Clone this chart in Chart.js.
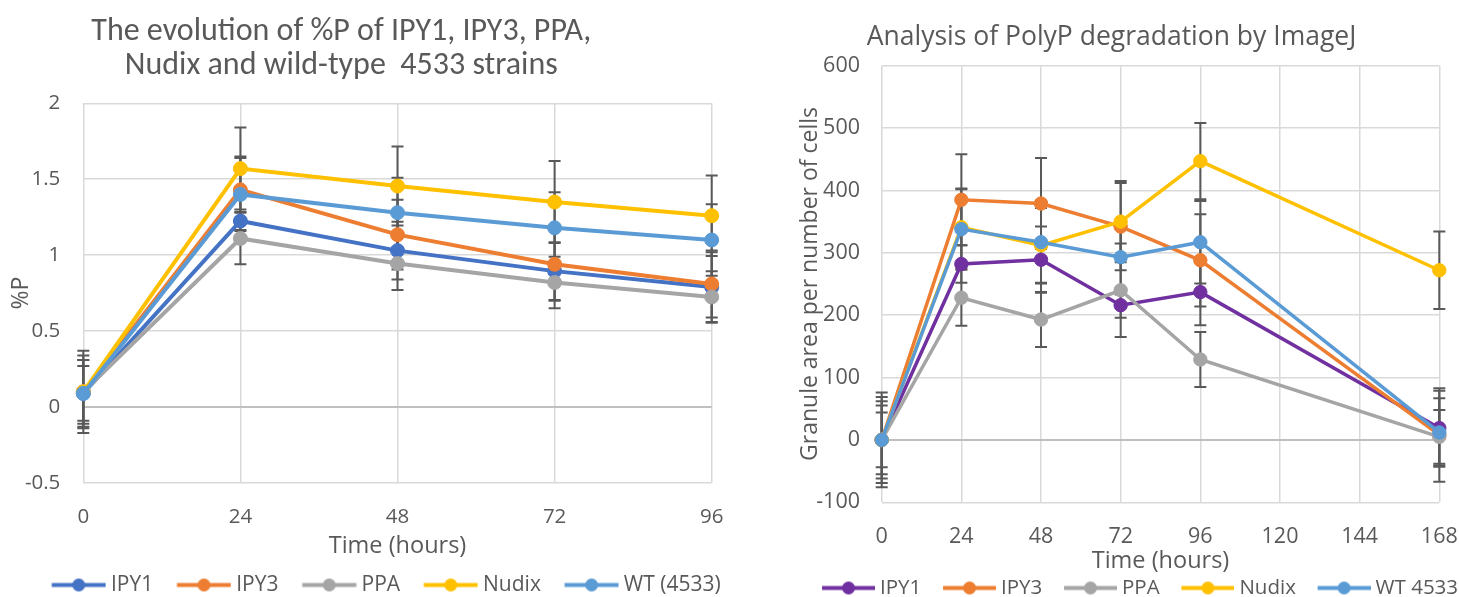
<!DOCTYPE html>
<html>
<head>
<meta charset="utf-8">
<script src="https://cdn.jsdelivr.net/npm/chart.js@4.4.1/dist/chart.umd.min.js"></script>
<style>
  html, body { margin: 0; padding: 0; background: #ffffff; }
  #chartP { position: absolute; left: 0; top: 0; }
  #chartPolyP { position: absolute; left: 700px; top: 0; }
</style>
</head>
<body>
<canvas id="chartP" width="740" height="597"></canvas>
<canvas id="chartPolyP" width="759" height="597"></canvas>
<script>
// ---- %P time course (0–96 h) ----
const hoursP = [0, 24, 48, 72, 96];
const pIPY1  = [0.09, 1.225, 1.03, 0.895, 0.79];
const pIPY3  = [0.10, 1.43, 1.135, 0.94, 0.81];
const pPPA   = [0.10, 1.11, 0.945, 0.82, 0.725];
const pNudix = [0.10, 1.57, 1.455, 1.35, 1.26];
const pWT    = [0.09, 1.40, 1.28, 1.18, 1.10];
// standard deviations for %P
const sdIPY1  = [0.18, 0.06, 0.19, 0.19, 0.23];
const sdIPY3  = [0.21, 0.22, 0.23, 0.24, 0.22];
const sdPPA   = [0.24, 0.17, 0.175, 0.17, 0.17];
const sdNudix = [0.27, 0.27, 0.26, 0.27, 0.265];
const sdWT    = [0.22, 0.24, 0.23, 0.235, 0.235];
const namesP = ['IPY1', 'IPY3', 'PPA', 'Nudix', 'WT (4533)'];

// ---- PolyP granule area per number of cells (0–168 h) ----
const hoursG = [0, 24, 48, 72, 96, 168];
const gIPY1  = [0, 282, 289, 216, 237, 19];
const gIPY3  = [0, 385, 379, 342, 288, 8];
const gPPA   = [0, 228, 193, 240, 129, 5];
const gNudix = [0, 341, 312, 350, 447, 272];
const gWT    = [0, 338, 317, 293, 317, 12];
// standard deviations for granule area
const sdgIPY1  = [55, 30, 53, 20, 53, 60];
const sdgIPY3  = [76, 73, 73, 70, 74, 75];
const sdgPPA   = [44, 45, 44, 75, 44, 43];
const sdgNudix = [62, 62, 60, 65, 61, 62];
const sdgWT    = [69, 64, 66, 60, 66, 55];
const namesG = ['IPY1', 'IPY3', 'PPA', 'Nudix', 'WT 4533'];

const ticksP = { min: -0.5, max: 2, step: 0.5 };
const ticksG = { min: -100, max: 600, step: 100 };

const TEXT = '#595959';
const GRID = '#d9d9d9';
const ZERO = '#bfbfbf';
Chart.defaults.font.family = "'Open Sans', sans-serif";
Chart.defaults.color = TEXT;

// vertical error bars, drawn under the lines and markers
const errorBars = {
  id: 'errorBars',
  beforeDatasetsDraw(chart, args, o) {
    const { ctx } = chart;
    const xs = chart.scales.x, ys = chart.scales.y;
    ctx.save();
    ctx.strokeStyle = o.color;
    ctx.lineWidth = o.width;
    chart.data.datasets.forEach(ds => {
      (ds.errors || []).forEach((e, j) => {
        const p = ds.data[j];
        const x = xs.getPixelForValue(p.x);
        const y1 = ys.getPixelForValue(p.y + e);
        const y2 = ys.getPixelForValue(p.y - e);
        ctx.beginPath();
        ctx.moveTo(x, y1); ctx.lineTo(x, y2);
        ctx.moveTo(x - o.cap, y1); ctx.lineTo(x + o.cap, y1);
        ctx.moveTo(x - o.cap, y2); ctx.lineTo(x + o.cap, y2);
        ctx.stroke();
      });
    });
    ctx.restore();
  }
};

// shifts the legend and title blocks after layout
const nudge = {
  id: 'nudge',
  afterLayout(chart, args, o) {
    const lg = chart.legend;
    if (lg) {
      lg.left += o.legendX || 0; lg.right += o.legendX || 0;
      lg.top += o.legendY || 0; lg.bottom += o.legendY || 0;
    }
    const tb = chart.titleBlock;
    if (tb) { tb.left += o.titleX || 0; tb.right += o.titleX || 0; }
  }
};

// legend swatch: a line with a round marker, with blank space on its left
function swatch(color, lineLen, lead, r, lw) {
  const c = document.createElement('canvas');
  c.width = Math.round(lineLen + lead);
  c.height = 2 * r + 4;
  const g = c.getContext('2d');
  const cy = c.height / 2;
  g.strokeStyle = color; g.lineWidth = lw;
  g.beginPath(); g.moveTo(lead, cy); g.lineTo(lead + lineLen, cy); g.stroke();
  g.fillStyle = color;
  g.beginPath(); g.arc(lead + lineLen / 2, cy, r, 0, Math.PI * 2); g.fill();
  return c;
}

function series(xs, ys, errs, name, color, order, lw, pr) {
  return {
    label: name,
    data: xs.map((x, i) => ({ x: x, y: ys[i] })),
    errors: errs,
    borderColor: color,
    backgroundColor: color,
    borderWidth: lw,
    pointRadius: pr,
    pointHoverRadius: pr,
    pointBorderWidth: 1,
    pointBackgroundColor: color,
    pointBorderColor: color,
    tension: 0,
    clip: false,
    order: order
  };
}

const numLabel = v => String(Number(Number(v).toFixed(2)));

function buildChart(id, cfg) {
  const swatches = cfg.colors.map(c => swatch(c, cfg.sw.line, cfg.sw.lead, 6.5, cfg.sw.lw));
  const datasets = cfg.series.map((s, i) =>
    series(cfg.hours, s, cfg.errs[i], cfg.names[i], cfg.colors[i], cfg.series.length - i, cfg.lw, cfg.pr));
  return new Chart(document.getElementById(id), {
    type: 'line',
    data: { datasets: datasets },
    plugins: [errorBars, nudge],
    options: {
      responsive: false,
      animation: false,
      events: [],
      layout: { padding: { left: cfg.padLeft, right: cfg.padRight, top: 0, bottom: 0 } },
      scales: {
        x: {
          type: 'linear',
          min: cfg.xMin, max: cfg.xMax,
          afterFit: s => { s.height = cfg.xHeight; s.paddingLeft = 0; s.paddingRight = 0; },
          ticks: { stepSize: 24, padding: cfg.xTickPad, font: { size: cfg.tickSize }, color: TEXT, maxRotation: 0, callback: numLabel },
          grid: { color: GRID, lineWidth: 1.5, drawTicks: false },
          border: { display: false },
          title: { display: true, text: 'Time (hours)', color: TEXT, font: { size: 23.5 }, padding: { top: 0, bottom: cfg.xTitlePad } }
        },
        y: {
          min: cfg.yTicks.min, max: cfg.yTicks.max,
          afterFit: s => { s.width = cfg.yWidth; },
          ticks: { stepSize: cfg.yTicks.step, padding: cfg.yTickPad, font: { size: cfg.tickSize }, color: TEXT, callback: numLabel },
          grid: {
            color: c => (c.tick && c.tick.value === 0) ? ZERO : GRID,
            lineWidth: c => (c.tick && c.tick.value === 0) ? 2 : 1.5,
            drawTicks: false
          },
          border: { display: false },
          title: { display: true, text: cfg.yTitle, color: TEXT, font: { size: cfg.yTitleSize }, padding: { top: cfg.yTitlePad, bottom: 0 } }
        }
      },
      plugins: {
        title: {
          display: true,
          text: cfg.title,
          color: TEXT,
          font: cfg.titleFont,
          padding: cfg.titlePad
        },
        legend: {
          position: 'bottom',
          align: 'start',
          labels: {
            usePointStyle: true,
            pointStyleWidth: cfg.sw.box,
            padding: 10,
            color: TEXT,
            font: { size: cfg.legendSize },
            sort: (a, b) => a.datasetIndex - b.datasetIndex,
            generateLabels: chart => {
              const items = Chart.defaults.plugins.legend.labels.generateLabels(chart);
              items.forEach(it => { it.pointStyle = swatches[it.datasetIndex]; });
              return items;
            }
          }
        },
        tooltip: { enabled: false },
        errorBars: { color: '#595959', width: 2, cap: 6 },
        nudge: cfg.nudge
      }
    }
  });
}

const colorsP = ['#4472C4', '#ED7D31', '#A5A5A5', '#FFC000', '#5B9BD5'];
const colorsG = ['#7030A0', '#ED7D31', '#A5A5A5', '#FFC000', '#5B9BD5'];

buildChart('chartP', {
  hours: hoursP,
  series: [pIPY1, pIPY3, pPPA, pNudix, pWT],
  errs: [sdIPY1, sdIPY3, sdPPA, sdNudix, sdWT],
  names: namesP,
  colors: colorsP,
  xMin: 0, xMax: 96,
  yTicks: ticksP,
  yTitle: '%P', yTitleSize: 23, yTitlePad: 37.2,
  title: ['The evolution of %P of IPY1, IPY3, PPA,', 'Nudix and wild-type  4533 strains'],
  titleFont: { family: "Carlito, Calibri, 'Open Sans', sans-serif", size: 32, weight: 'normal', lineHeight: '34px' },
  titlePad: { top: 15, bottom: 20.3 },
  padLeft: -30, padRight: 28.3,
  yWidth: 113.3, yTickPad: 23,
  xHeight: 73, xTickPad: 22, xTitlePad: -4.1,
  tickSize: 20.5,
  legendSize: 21,
  sw: { line: 54, lead: 19.5, box: 62.5, lw: 4 },
  lw: 4, pr: 7,
  nudge: { legendX: 58, legendY: 8.5, titleX: 0.45 }
});

buildChart('chartPolyP', {
  hours: hoursG,
  series: [gIPY1, gIPY3, gPPA, gNudix, gWT],
  errs: [sdgIPY1, sdgIPY3, sdgPPA, sdgNudix, sdgWT],
  names: namesG,
  colors: colorsG,
  xMin: 0, xMax: 168,
  yTicks: ticksG,
  yTitle: 'Granule area per number of cells', yTitleSize: 23, yTitlePad: 96.2,
  title: 'Analysis of PolyP degradation by ImageJ',
  titleFont: { size: 26.5, weight: 'normal', lineHeight: '31px' },
  titlePad: { top: 21.5, bottom: 13.2 },
  padLeft: 0, padRight: 19.7,
  yWidth: 181.7, yTickPad: 21.7,
  xHeight: 54.2, xTickPad: 22, xTitlePad: -18.6,
  tickSize: 21.5,
  legendSize: 20.5,
  sw: { line: 53, lead: 17, box: 59.5, lw: 4 },
  lw: 3.5, pr: 6.7,
  nudge: { legendX: 100.3, legendY: 11.25, titleX: 41.85 }
});
</script>
</body>
</html>
